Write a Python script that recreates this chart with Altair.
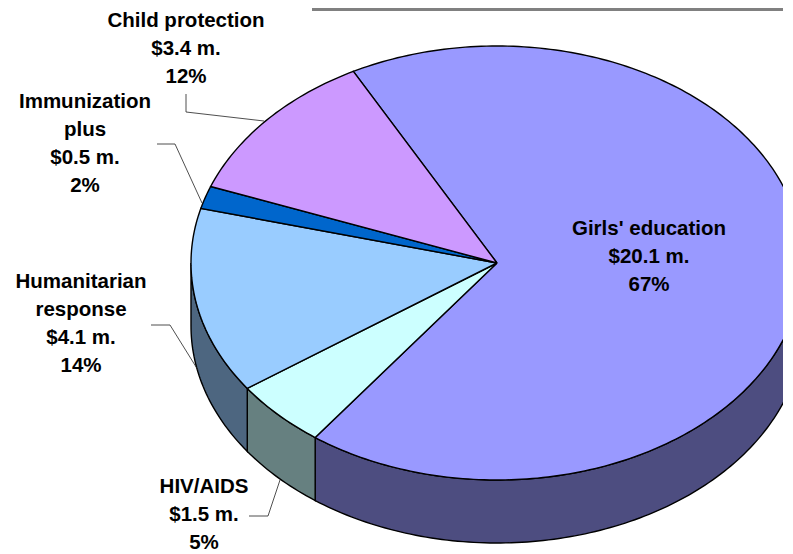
import math
import altair as alt
import pandas as pd

# Chart values
categories = ["Girls' education", "HIV/AIDS", "Humanitarian response", "Immunization plus", "Child protection"]
amounts = [20.1, 1.5, 4.1, 0.5, 3.4]
amount_labels = ["$20.1 m.", "$1.5 m.", "$4.1 m.", "$0.5 m.", "$3.4 m."]
share_labels = ["67%", "5%", "14%", "2%", "12%"]

top_colors = ["#9999ff", "#ccffff", "#99ccff", "#0066cc", "#cc99ff"]
side_colors = ["#4d4d80", "#668080", "#4d6680", "#003366", "#665080"]

# Label layout: name lines, centre x, first baseline y (page pixels)
label_lines = [
    ["Girls' education"], ["HIV/AIDS"], ["Humanitarian", "response"],
    ["Immunization", "plus"], ["Child protection"],
]
label_x = [649, 204, 81, 85, 186]
label_y = [235, 493, 288, 108, 26.5]
line_step = 28

leaders = {
    "HIV/AIDS": ([249, 268, 280], [516, 516, 480]),
    "Humanitarian response": ([151, 170, 198], [325, 325, 370]),
    "Immunization plus": ([157, 175, 202], [144, 144, 203]),
    "Child protection": ([186, 186, 264], [94, 112, 121]),
}

# Pie geometry
CX, CY, RX, RY, DEPTH, START = 497, 263, 306, 217, 63, 332.0


def pt(t, dy=0):
    r = math.radians(t)
    return CX + RX * math.sin(r), CY - RY * math.cos(r) + dy


total = sum(amounts)
tops, walls = [], []
a = START
for name, v in zip(categories, amounts):
    sweep = v / total * 360
    b = a + sweep
    n = max(4, int(sweep))
    poly = [(CX, CY)] + [pt(a + sweep * i / n) for i in range(n + 1)] + [(CX, CY)]
    for i, (x, y) in enumerate(poly):
        tops.append({"name": name, "i": i, "x": x, "y": y})
    # visible side wall: the part of the arc in the front half (90..270 deg, mod 360)
    for off in (-360, 0):
        lo, hi = max(a + off, 90), min(b + off, 270)
        if hi > lo:
            m = max(4, int(hi - lo))
            arc = [lo + (hi - lo) * i / m for i in range(m + 1)]
            outline = [pt(t) for t in arc] + [pt(t, DEPTH) for t in reversed(arc)]
            outline.append(outline[0])
            for i, (x, y) in enumerate(outline):
                walls.append({"name": name, "i": i, "x": x, "y": y})
    a = b

text_rows = []
for name, amt, share, lines, lx, ly in zip(categories, amount_labels, share_labels, label_lines, label_x, label_y):
    for k, s in enumerate(lines + [amt, share]):
        text_rows.append({"t": s, "x": lx, "y": ly + k * line_step, "row": f"{name}{k}"})

leader_rows = []
for name, (xs, ys) in leaders.items():
    for i, (x, y) in enumerate(zip(xs, ys)):
        leader_rows.append({"name": name, "i": i, "x": x, "y": y})

X = alt.X("x:Q", scale=alt.Scale(domain=[8, 783], nice=False, zero=False), axis=None)
Y = alt.Y("y:Q", scale=alt.Scale(domain=[8, 550], nice=False, zero=False, range=[0, 542]), axis=None)

wall_layer = alt.Chart(pd.DataFrame(walls)).mark_line(
    filled=True, stroke="black", strokeWidth=1.4, clip=True, interpolate="linear"
).encode(
    x=X, y=Y, order="i:Q",
    color=alt.Color("name:N", scale=alt.Scale(domain=categories, range=side_colors), legend=None),
)

top_layer = alt.Chart(pd.DataFrame(tops)).mark_line(
    filled=True, stroke="black", strokeWidth=1.4, clip=True, interpolate="linear"
).encode(
    x=X, y=Y, order="i:Q",
    color=alt.Color("name:N", scale=alt.Scale(domain=categories, range=top_colors), legend=None),
)

leader_layer = alt.Chart(pd.DataFrame(leader_rows)).mark_line(
    color="#222222", strokeWidth=0.8, clip=True
).encode(x=X, y=Y, order="i:Q", detail="name:N")

text_layer = alt.Chart(pd.DataFrame(text_rows)).mark_text(
    font="Liberation Sans", fontWeight="bold", fontSize=20.5, align="center",
    baseline="alphabetic", color="black",
).encode(x=X, y=Y, text="t:N")

bar_layer = alt.Chart(pd.DataFrame({"x": [312], "x2": [783], "y": [9.5]})).mark_rule(
    color="#808080", strokeWidth=3
).encode(x=X, x2="x2:Q", y=Y)

chart = (
    alt.layer(wall_layer, top_layer, leader_layer, text_layer, bar_layer)
    .resolve_scale(color="independent")
    .properties(width=775, height=542, padding=0, background="white")
    .configure_view(stroke=None)
)

chart.save("out.html", embed_options={"renderer": "svg", "actions": False})
